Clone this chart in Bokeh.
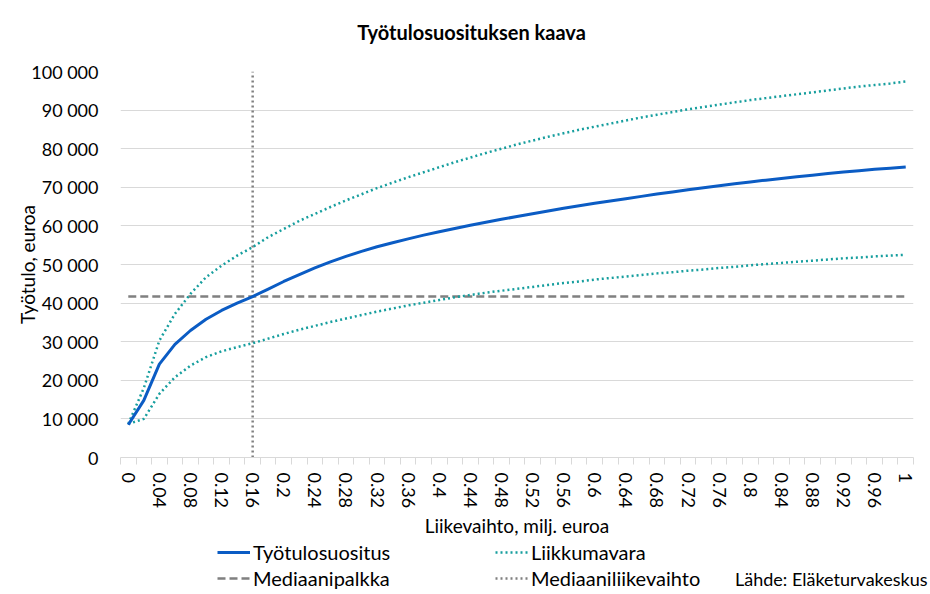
from bokeh.plotting import figure
from bokeh.layouts import column
from bokeh.models import Range1d, FixedTicker, Legend, LegendItem, Label
from bokeh.embed import file_html
from bokeh.resources import INLINE

# ---- data -------------------------------------------------------------
liikevaihto = [0, 0.02, 0.04, 0.06, 0.08, 0.10, 0.12, 0.14, 0.16, 0.18,
               0.20, 0.22, 0.24, 0.26, 0.28, 0.30, 0.32, 0.34, 0.36, 0.38,
               0.40, 0.42, 0.44, 0.46, 0.48, 0.50, 0.52, 0.54, 0.56, 0.58,
               0.60, 0.62, 0.64, 0.66, 0.68, 0.70, 0.72, 0.74, 0.76, 0.78,
               0.80, 0.82, 0.84, 0.86, 0.88, 0.90, 0.92, 0.94, 0.96, 0.98,
               1.00]

tyotulosuositus = [8500, 14800, 24200, 29300, 32900, 35800, 38100, 40000, 41700, 43600,
                   45600, 47400, 49100, 50700, 52100, 53400, 54600, 55650, 56650, 57600,
                   58500, 59350, 60150, 60950, 61700, 62450, 63150, 63850, 64550, 65200,
                   65850, 66450, 67050, 67650, 68250, 68800, 69350, 69900, 70400, 70900,
                   71400, 71850, 72300, 72750, 73150, 73550, 73950, 74300, 74650, 74950,
                   75250]

liikkumavara_yla = [8700, 18000, 30300, 37200, 42400, 46700, 49700, 52300, 54500, 57100,
                    59200, 61300, 63100, 64900, 66600, 68200, 69800, 71200, 72600, 73900,
                    75200, 76500, 77700, 78900, 80000, 81100, 82100, 83100, 84000, 84900,
                    85700, 86500, 87300, 88100, 88800, 89500, 90200, 90800, 91400, 92000,
                    92600, 93100, 93600, 94100, 94600, 95100, 95600, 96100, 96500, 96900,
                    97400]

liikkumavara_ala = [8700, 10000, 16500, 20800, 23800, 26000, 27500, 28600, 29600, 30800,
                    32000, 33100, 34100, 35100, 36000, 36900, 37800, 38600, 39400, 40100,
                    40800, 41500, 42100, 42700, 43200, 43700, 44200, 44700, 45200, 45600,
                    46100, 46500, 46900, 47300, 47700, 48000, 48400, 48700, 49100, 49400,
                    49800, 50100, 50400, 50700, 51000, 51300, 51600, 51800, 52100, 52300,
                    52500]

mediaanipalkka = 41700
mediaaniliikevaihto = 0.16

y_ticks = [0, 10000, 20000, 30000, 40000, 50000, 60000, 70000, 80000, 90000, 100000]
y_tick_labels = ["0", "10 000", "20 000", "30 000", "40 000", "50 000",
                 "60 000", "70 000", "80 000", "90 000", "100 000"]

x_tick_labels = ["0", "0.04", "0.08", "0.12", "0.16", "0.2", "0.24", "0.28", "0.32",
                 "0.36", "0.4", "0.44", "0.48", "0.52", "0.56", "0.6", "0.64", "0.68",
                 "0.72", "0.76", "0.8", "0.84", "0.88", "0.92", "0.96", "1"]

# ---- styling ----------------------------------------------------------
FONT = "Lato"
BLUE = "#0B5CC4"
TEAL = "#169E9E"
GRAY = "#808080"
GRID = "#D9D9D9"

W = 930
H0 = 48           # title strip
H1 = 540 - H0     # main chart
H2 = 594 - 540    # legend strip

idx = list(range(len(liikevaihto)))
label_idx = idx[::2]


def strip(height):
    f = figure(width=W, height=height, output_backend="svg", toolbar_location=None,
               x_range=Range1d(0, 1), y_range=Range1d(0, 1), title=None,
               min_border=0, x_axis_location=None, y_axis_location=None)
    f.frame_align = False
    f.outline_line_color = None
    f.xgrid.grid_line_color = None
    f.ygrid.grid_line_color = None
    f.background_fill_color = "white"
    f.border_fill_color = "white"
    return f


# ---- title strip ------------------------------------------------------
p0 = strip(H0)
p0.add_layout(Label(x=471, y=H0 - 31, x_units="screen", y_units="screen",
                    text="Työtulosuosituksen kaava", text_align="center",
                    text_baseline="middle", text_font=FONT, text_font_size="20px",
                    text_font_style="bold", text_color="#000000"))

# ---- main chart -------------------------------------------------------
p = figure(width=W, height=H1, output_backend="svg", toolbar_location=None,
           title=None,
           x_range=Range1d(-0.5, len(idx) - 0.5),
           y_range=Range1d(y_ticks[0], y_ticks[-1]),
           min_border_left=120, min_border_right=17,
           min_border_top=71 - H0, min_border_bottom=540 - 457)
p.outline_line_color = None
p.background_fill_color = "white"
p.border_fill_color = "white"

# x axis (category style)
p.xaxis.ticker = FixedTicker(ticks=label_idx,
                             minor_ticks=[i - 0.5 for i in idx] + [idx[-1] + 0.5])
p.xaxis.major_label_overrides = {i: t for i, t in zip(label_idx, x_tick_labels)}
p.xaxis.major_label_orientation = "vertical"
p.xaxis.major_tick_out = 0
p.xaxis.major_tick_in = 0
p.xaxis.minor_tick_out = 7
p.xaxis.minor_tick_in = 0
p.xaxis.minor_tick_line_color = GRID
p.xaxis.axis_line_color = GRID
p.xaxis.major_label_standoff = 8
p.xaxis.major_label_text_font = FONT
p.xaxis.major_label_text_font_size = "18px"
p.xaxis.major_label_text_color = "#000000"
p.xaxis.axis_label = "Liikevaihto, milj. euroa"
p.xaxis.axis_label_text_font = FONT
p.xaxis.axis_label_text_font_size = "19px"
p.xaxis.axis_label_text_font_style = "normal"
p.xaxis.axis_label_text_color = "#000000"
p.xaxis.axis_label_standoff = 3

# y axis
p.yaxis.ticker = FixedTicker(ticks=y_ticks)
p.yaxis.major_label_overrides = {v: t for v, t in zip(y_ticks, y_tick_labels)}
p.yaxis.axis_line_color = None
p.yaxis.major_tick_line_color = None
p.yaxis.minor_tick_line_color = None
p.yaxis.major_label_standoff = 16
p.yaxis.major_label_text_font = FONT
p.yaxis.major_label_text_font_size = "18px"
p.yaxis.major_label_text_color = "#000000"
p.yaxis.axis_label = "Työtulo, euroa"
p.yaxis.axis_label_text_font = FONT
p.yaxis.axis_label_text_font_size = "19px"
p.yaxis.axis_label_text_font_style = "normal"
p.yaxis.axis_label_text_color = "#000000"
p.yaxis.axis_label_standoff = -11

p.xgrid.grid_line_color = None
p.ygrid.grid_line_color = GRID
p.ygrid.grid_line_width = 1

# ---- series -----------------------------------------------------------
STY_MAIN = dict(line_color=BLUE, line_width=3, line_join="round")
STY_BAND = dict(line_color=TEAL, line_width=2.5, line_dash="2 3")
STY_MED = dict(line_color=GRAY, line_width=2.5, line_dash="8 4")
STY_MEDLV = dict(line_color=GRAY, line_width=2.5, line_dash="2 3")

p.line([idx[0], idx[-1]], [mediaanipalkka, mediaanipalkka], **STY_MED)
med_i = liikevaihto.index(mediaaniliikevaihto)
p.line([med_i, med_i], [y_ticks[0], y_ticks[-1]], **STY_MEDLV)
p.line(idx, liikkumavara_yla, **STY_BAND)
p.line(idx, liikkumavara_ala, **STY_BAND)
p.line(idx, tyotulosuositus, **STY_MAIN)

# ---- legend strip -----------------------------------------------------
p2 = strip(H2)
NAN = [float("nan")]
l_main = p2.line(NAN, NAN, **STY_MAIN)
l_band = p2.line(NAN, NAN, **STY_BAND)
l_med = p2.line(NAN, NAN, **STY_MED)
l_medlv = p2.line(NAN, NAN, **STY_MEDLV)


def make_legend(items, loc):
    return Legend(items=items, location=loc, orientation="vertical",
                  padding=0, margin=0, spacing=2, glyph_width=33, glyph_height=20,
                  label_height=20, label_standoff=3,
                  label_text_font=FONT, label_text_font_size="20px",
                  label_text_color="#000000",
                  border_line_alpha=0, background_fill_alpha=0)


leg1 = make_legend([LegendItem(label="Työtulosuositus", renderers=[l_main]),
                    LegendItem(label="Mediaanipalkka", renderers=[l_med])], (217, 4))
leg2 = make_legend([LegendItem(label="Liikkumavara", renderers=[l_band]),
                    LegendItem(label="Mediaaniliikevaihto", renderers=[l_medlv])], (495, 4))
p2.add_layout(leg1, "center")
p2.add_layout(leg2, "center")

p2.add_layout(Label(x=927, y=16, x_units="screen", y_units="screen",
                    text="Lähde: Eläketurvakeskus", text_align="right",
                    text_baseline="middle", text_font=FONT, text_font_size="18px",
                    text_color="#000000"))

layout = column(p0, p, p2, spacing=0)
open("out.html", "w").write(file_html(layout, INLINE))
